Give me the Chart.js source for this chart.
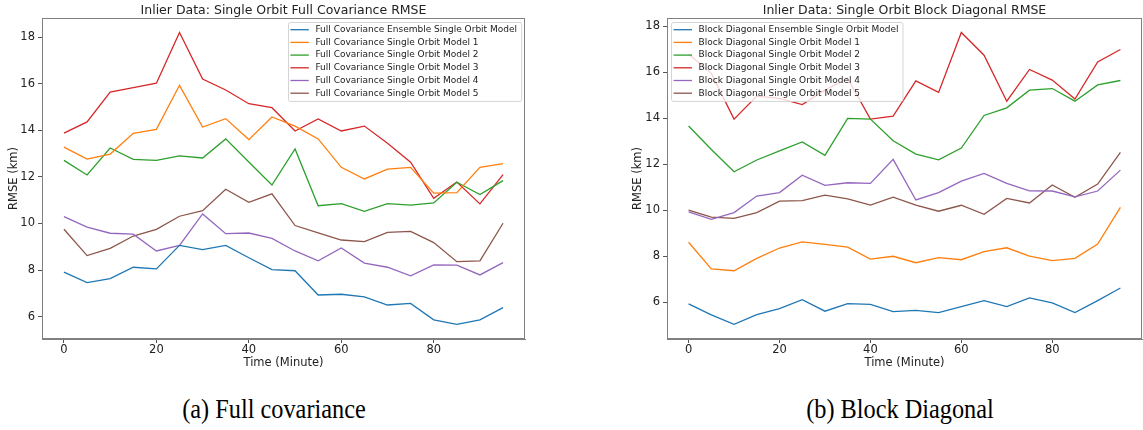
<!DOCTYPE html>
<html>
<head>
<meta charset="utf-8">
<script src="https://cdn.jsdelivr.net/npm/chart.js@4.4.1/dist/chart.umd.min.js"></script>
<style>
  body { margin: 0; background: #fff; width: 1143px; height: 430px; position: relative; overflow: hidden; }
  .panel { position: absolute; top: 0; height: 380px; }
  .caption { position: absolute; top: 394px; font-family: "Liberation Serif", serif; font-size: 27px; color: #000;
             transform: translateX(-50%) scaleX(0.9); white-space: nowrap; }
</style>
</head>
<body>
<div class="panel" style="left:0;width:560px"><canvas id="fullChart"></canvas></div>
<div class="panel" style="left:620px;width:523px"><canvas id="blockChart"></canvas></div>
<div class="caption" style="left:274px">(a) Full covariance</div>
<div class="caption" style="left:900px">(b) Block Diagonal</div>
<script>
// Time axis, minutes
const minutes = [0, 5, 10, 15, 20, 25, 30, 35, 40, 45, 50, 55, 60, 65, 70, 75, 80, 85, 90, 95];
const xTicks = [0, 20, 40, 60, 80];
const yTicks = [6, 8, 10, 12, 14, 16, 18];

// (a) Full covariance RMSE (km)
const fcEnsemble = [7.91, 7.46, 7.63, 8.12, 8.05, 9.06, 8.88, 9.06, 8.53, 8.02, 7.97, 6.93, 6.96, 6.85, 6.50, 6.57, 5.86, 5.67, 5.86, 6.39];
const fcModel1 = [13.28, 12.76, 12.98, 13.87, 14.04, 15.93, 14.14, 14.50, 13.60, 14.57, 14.18, 13.63, 12.41, 11.91, 12.33, 12.41, 11.30, 11.32, 12.41, 12.57];
const fcModel2 = [12.71, 12.08, 13.24, 12.75, 12.71, 12.90, 12.81, 13.63, 12.64, 11.65, 13.20, 10.76, 10.85, 10.52, 10.85, 10.79, 10.88, 11.77, 11.24, 11.84];
const fcModel3 = [13.88, 14.36, 15.64, 15.83, 16.02, 18.20, 16.20, 15.73, 15.14, 14.97, 13.97, 14.49, 13.97, 14.18, 13.44, 12.63, 11.08, 11.78, 10.84, 12.10];
const fcModel4 = [10.29, 9.84, 9.58, 9.54, 8.82, 9.06, 10.41, 9.56, 9.59, 9.36, 8.82, 8.40, 8.95, 8.30, 8.12, 7.75, 8.22, 8.21, 7.79, 8.32];
const fcModel5 = [9.75, 8.62, 8.93, 9.46, 9.75, 10.31, 10.55, 11.47, 10.91, 11.27, 9.91, 9.60, 9.29, 9.22, 9.62, 9.66, 9.18, 8.36, 8.39, 10.01];

// (b) Block diagonal RMSE (km)
const bdEnsemble = [5.93, 5.45, 5.04, 5.46, 5.72, 6.11, 5.61, 5.94, 5.91, 5.59, 5.65, 5.55, 5.81, 6.07, 5.81, 6.19, 5.97, 5.55, 6.07, 6.62];
const bdModel1 = [8.61, 7.45, 7.37, 7.91, 8.36, 8.63, 8.52, 8.40, 7.88, 8.00, 7.72, 7.94, 7.85, 8.20, 8.37, 8.01, 7.81, 7.91, 8.53, 10.13];
const bdModel2 = [13.67, 12.65, 11.68, 12.19, 12.59, 12.98, 12.39, 14.00, 13.97, 13.03, 12.45, 12.20, 12.71, 14.13, 14.46, 15.23, 15.30, 14.75, 15.46, 15.65];
const bdModel3 = [16.80, 15.96, 13.97, 14.97, 14.87, 14.60, 15.23, 15.74, 13.97, 14.10, 15.63, 15.13, 17.74, 16.75, 14.75, 16.13, 15.67, 14.84, 16.46, 17.00];
const bdModel4 = [9.93, 9.61, 9.90, 10.62, 10.77, 11.53, 11.09, 11.20, 11.17, 12.22, 10.45, 10.77, 11.27, 11.61, 11.17, 10.85, 10.84, 10.59, 10.84, 11.75];
const bdModel5 = [10.01, 9.70, 9.65, 9.90, 10.40, 10.42, 10.66, 10.50, 10.23, 10.57, 10.23, 9.96, 10.22, 9.83, 10.52, 10.32, 11.10, 10.57, 11.14, 12.52];

const fcLabels = [
  'Full Covariance Ensemble Single Orbit Model',
  'Full Covariance Single Orbit Model 1',
  'Full Covariance Single Orbit Model 2',
  'Full Covariance Single Orbit Model 3',
  'Full Covariance Single Orbit Model 4',
  'Full Covariance Single Orbit Model 5'
];
const bdLabels = [
  'Block Diagonal Ensemble Single Orbit Model',
  'Block Diagonal Single Orbit Model 1',
  'Block Diagonal Single Orbit Model 2',
  'Block Diagonal Single Orbit Model 3',
  'Block Diagonal Single Orbit Model 4',
  'Block Diagonal Single Orbit Model 5'
];

// matplotlib default cycle
const colors = ['#1f77b4', '#ff7f0e', '#2ca02c', '#d62728', '#9467bd', '#8c564b'];

Chart.defaults.font.family = '"DejaVu Sans", sans-serif';
Chart.defaults.color = '#222';

// box around the plot area (top and right spines)
const frame = {
  id: 'frame',
  afterDraw(chart) {
    const { ctx, chartArea: a } = chart;
    ctx.save();
    ctx.strokeStyle = '#808080';
    ctx.lineWidth = 1;
    ctx.strokeRect(Math.round(a.left) + 0.5, Math.round(a.top) + 0.5,
                   Math.round(a.right - a.left) - 1, Math.round(a.bottom - a.top) - 1);
    ctx.restore();
  }
};

// axes title centred over the plot area, like matplotlib's ax.set_title
const axesTitle = {
  id: 'axesTitle',
  afterDraw(chart, args, opts) {
    const { ctx, chartArea: a } = chart;
    ctx.save();
    ctx.font = '12.5px "DejaVu Sans"';
    ctx.fillStyle = '#222';
    ctx.textAlign = 'center';
    ctx.textBaseline = 'middle';
    ctx.fillText(opts.text, (a.left + a.right) / 2, a.top - 7.5);
    ctx.restore();
  }
};

// matplotlib-style legend drawn inside the axes
const insideLegend = {
  id: 'insideLegend',
  afterDatasetsDraw(chart, args, opts) {
    const { ctx, chartArea: a } = chart;
    const sets = chart.data.datasets;
    ctx.save();
    ctx.font = '9px "DejaVu Sans"';
    const textW = Math.max(...sets.map(d => ctx.measureText(d.label).width));
    const rowH = 12.7;
    const w = 27.6 + textW + 4;
    const h = rowH * (sets.length - 1) + 15.4;
    const x = opts.side === 'left' ? a.left + 4 : a.right - 4 - w;
    const y = a.top + 4;
    ctx.fillStyle = 'rgba(255,255,255,0.8)';
    ctx.strokeStyle = '#d4d4d4';
    ctx.lineWidth = 1;
    ctx.beginPath();
    ctx.roundRect(Math.round(x) + 0.5, Math.round(y) + 0.5, w, h, 2);
    ctx.fill();
    ctx.stroke();
    sets.forEach((d, i) => {
      const cy = y + 7.7 + i * rowH;
      ctx.strokeStyle = d.borderColor;
      ctx.lineWidth = 1.3;
      ctx.beginPath();
      ctx.moveTo(x + 2.6, cy);
      ctx.lineTo(x + 21, cy);
      ctx.stroke();
      ctx.fillStyle = '#222';
      ctx.textBaseline = 'middle';
      ctx.fillText(d.label, x + 27.6, cy);
    });
    ctx.restore();
  }
};

function makeChart(id, title, labels, series, yMin, yMax, opts) {
  const ctx = document.getElementById(id).getContext('2d');
  return new Chart(ctx, {
    type: 'line',
    data: {
      datasets: series.map((vals, i) => ({
        label: labels[i],
        data: minutes.map((m, j) => ({ x: m, y: vals[j] })),
        borderColor: colors[i],
        backgroundColor: colors[i],
        borderWidth: 1.3,
        pointRadius: 0,
        tension: 0
      }))
    },
    options: {
      responsive: true,
      maintainAspectRatio: false,
      animation: false,
      layout: { padding: { top: 18, left: 0, right: opts.padRight, bottom: 0 } },
      plugins: {
        legend: { display: false },
        tooltip: { enabled: false },
        title: { display: false },
        axesTitle: { text: title },
        insideLegend: { side: opts.legendSide }
      },
      scales: {
        x: {
          type: 'linear',
          min: -4.75,
          max: 99.75,
          afterBuildTicks: s => { s.ticks = xTicks.map(v => ({ value: v })); },
          afterFit: s => { s.height = 41; },
          grid: { drawOnChartArea: false, drawTicks: true, tickLength: 4, tickColor: '#555' },
          border: { display: true, color: '#808080', width: 1 },
          ticks: { font: { size: 11.5 }, color: '#222', padding: 0, maxRotation: 0 },
          title: { display: true, text: 'Time (Minute)', color: '#222', font: { size: 11.5 }, padding: { top: 0, bottom: 10 } }
        },
        y: {
          min: yMin,
          max: yMax,
          afterBuildTicks: s => { s.ticks = yTicks.map(v => ({ value: v })); },
          afterFit: s => { s.width = opts.yWidth; },
          grid: { drawOnChartArea: false, drawTicks: true, tickLength: 4, tickColor: '#555' },
          border: { display: true, color: '#808080', width: 1 },
          ticks: { font: { size: 11.5 }, color: '#222', padding: 3 },
          title: { display: true, text: 'RMSE (km)', color: '#222', font: { size: 11.5 }, padding: { top: opts.yTitlePad, bottom: 0 } }
        }
      }
    },
    plugins: [frame, axesTitle, insideLegend]
  });
}

makeChart('fullChart', 'Inlier Data: Single Orbit Full Covariance RMSE', fcLabels,
  [fcEnsemble, fcModel1, fcModel2, fcModel3, fcModel4, fcModel5], 5.04, 18.82,
  { padRight: 35, yWidth: 42, yTitlePad: 7, legendSide: 'right' });

makeChart('blockChart', 'Inlier Data: Single Orbit Block Diagonal RMSE', bdLabels,
  [bdEnsemble, bdModel1, bdModel2, bdModel3, bdModel4, bdModel5], 4.40, 18.37,
  { padRight: 1, yWidth: 47, yTitlePad: 11, legendSide: 'left' });
</script>
</body>
</html>
